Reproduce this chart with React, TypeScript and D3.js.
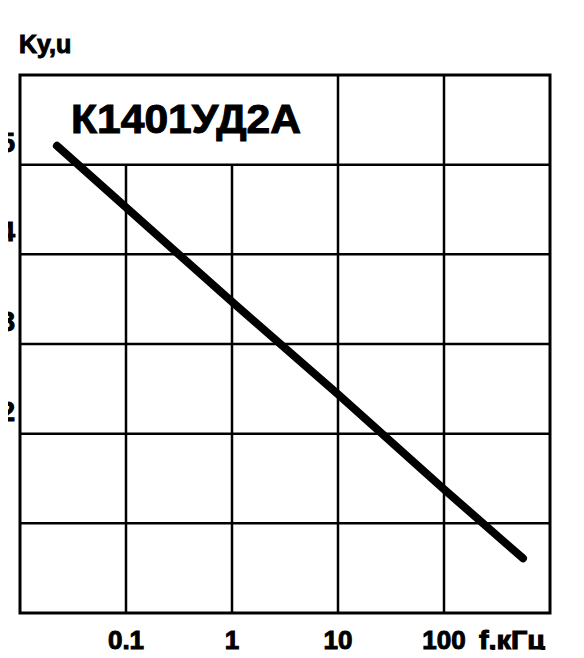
import * as d3 from "d3";
import { useEffect, useRef } from "react";

// frequency, kHz (log axis) and gain
const freq = [0.0223, 1, 10, 100, 556];
const gain = [5.21, 3.47, 2.44, 1.38, 0.61];

const freqTicks = [0.1, 1, 10, 100];
const freqLabels = ["0.1", "1", "10", "100"];
const gainTicks = [5, 4, 3, 2];
const gridX = [0.1, 1, 10, 100];
const gridY = [1, 2, 3, 4, 5];

const title = "К1401УД2А";
const yTitle = "Ky,u";
const xTitle = "f,кГц";

const App = () => {
  const ref = useRef<SVGSVGElement>(null);

  useEffect(() => {
    const svg = d3.select(ref.current);
    svg.selectAll("*").remove();

    const width = 584,
      height = 658;
    const left = 20,
      right = 550,
      top = 75,
      bottom = 613;

    svg.attr("width", width).attr("height", height);

    const x = d3.scaleLog().domain([0.01, 1000]).range([left, right]);
    const y = d3.scaleLinear().domain([0, 6]).range([bottom, top]);

    const font = "'Liberation Sans', Arial, sans-serif";

    svg.append("rect")
      .attr("width", width)
      .attr("height", height)
      .attr("fill", "#fff");

    const grid = svg.append("g").attr("stroke", "#000").attr("stroke-width", 2.5);

    // vertical lines: the label box covers the top row left of 10 kHz
    grid.selectAll("line.v")
      .data(gridX)
      .enter()
      .append("line")
      .attr("x1", d => x(d))
      .attr("x2", d => x(d))
      .attr("y1", d => (d < 10 ? y(5) : top))
      .attr("y2", bottom);

    grid.selectAll("line.h")
      .data(gridY)
      .enter()
      .append("line")
      .attr("x1", left)
      .attr("x2", right)
      .attr("y1", d => y(d))
      .attr("y2", d => y(d));

    svg.append("rect")
      .attr("x", left)
      .attr("y", top)
      .attr("width", right - left)
      .attr("height", bottom - top)
      .attr("fill", "none")
      .attr("stroke", "#000")
      .attr("stroke-width", 3);

    const line = d3.line<number>()
      .x((d, i) => x(freq[i]))
      .y(d => y(d));

    svg.append("path")
      .datum(gain)
      .attr("d", line)
      .attr("fill", "none")
      .attr("stroke", "#000")
      .attr("stroke-width", 8)
      .attr("stroke-linecap", "round");

    // scanned text is heavy, so a thin outline thickens the glyphs
    const txt = svg.append("g")
      .attr("font-family", font)
      .attr("font-weight", "bold")
      .attr("fill", "#000")
      .attr("stroke", "#000")
      .attr("stroke-width", 1);

    txt.append("text")
      .attr("x", 71)
      .attr("y", 133)
      .attr("font-size", 40)
      .attr("textLength", 230)
      .attr("lengthAdjust", "spacingAndGlyphs")
      .text(title);

    txt.append("text")
      .attr("x", 19)
      .attr("y", 53)
      .attr("font-size", 25)
      .text(yTitle);

    // tick numbers at the left are clipped by the page edge, as in the scan
    txt.selectAll("text.yt")
      .data(gainTicks)
      .enter()
      .append("text")
      .attr("x", 15)
      .attr("y", d => y(d) - 13)
      .attr("text-anchor", "end")
      .attr("font-size", 28)
      .text(d => d);

    txt.selectAll("text.xt")
      .data(freqTicks)
      .enter()
      .append("text")
      .attr("x", d => x(d))
      .attr("y", 649)
      .attr("text-anchor", "middle")
      .attr("font-size", 26)
      .text((d, i) => freqLabels[i]);

    txt.append("text")
      .attr("x", 479)
      .attr("y", 649)
      .attr("font-size", 25)
      .attr("textLength", 66)
      .attr("lengthAdjust", "spacingAndGlyphs")
      .text(xTitle);
  }, []);

  return (
    <div style={{ margin: -8 }}>
      <svg ref={ref} style={{ display: "block" }} />
    </div>
  );
};

export default App;
